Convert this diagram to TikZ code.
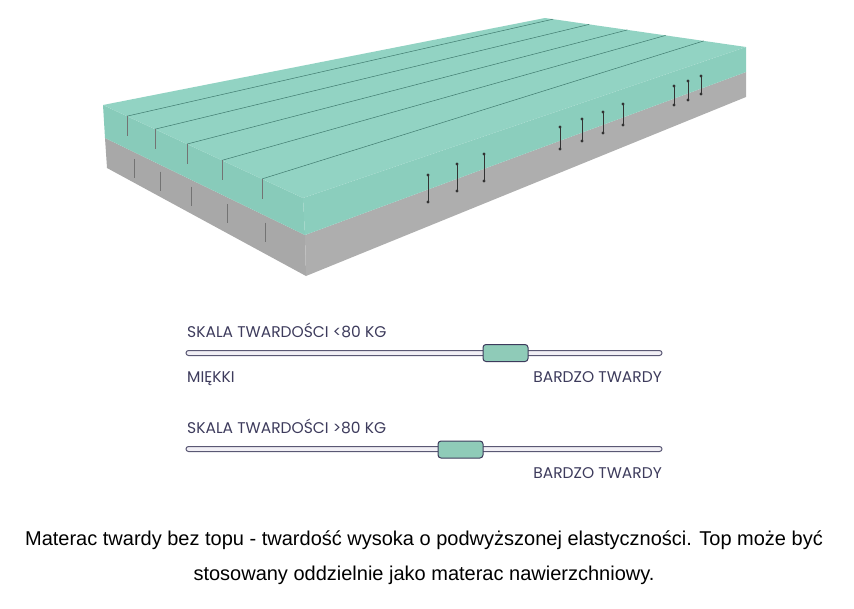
\documentclass[tikz,border=0pt]{standalone}
\usepackage{fontspec}
\setmainfont{Liberation Sans}
\newfontfamily\scalefont{Poppins}
\usetikzlibrary{positioning,calc}

\definecolor{foamtop}{HTML}{92D3C3}
\definecolor{foamside}{HTML}{8BCEBD}
\definecolor{foamend}{HTML}{88CBBA}
\definecolor{greyside}{HTML}{AEAEAE}
\definecolor{greyend}{HTML}{A8A8A8}
\definecolor{cutline}{HTML}{3F7A6E}
\definecolor{inkpurple}{HTML}{3D3B5C}
\definecolor{barfill}{HTML}{F1EFF5}
\definecolor{knobfill}{HTML}{8FCBB8}

\tikzset{
    scalelabel/.style={font=\scalefont\fontsize{15.5}{18}\selectfont, text=inkpurple, inner sep=0pt},
    scalebar/.style={draw=inkpurple!85, fill=barfill, line width=1pt, rounded corners=2.5pt},
    knob/.style={draw=inkpurple, fill=knobfill, line width=1pt, rounded corners=3pt,
        minimum width=45pt, minimum height=17pt, inner sep=0pt},
    stitch/.style={draw=black!80, line width=0.5pt},
}

\begin{document}
\begin{tikzpicture}[x=1pt,y=-1pt]
    \useasboundingbox (0,0) rectangle (854,608);

    % mattress corners
    \coordinate (tl) at (103,105);
    \coordinate (tb) at (545,18);
    \coordinate (tr) at (746,47);
    \coordinate (tf) at (303,198);
    \coordinate (ml) at (105,138);
    \coordinate (mf) at (305,235);
    \coordinate (mr) at (746,72);
    \coordinate (bl) at (107,168);
    \coordinate (bf) at (306,276);
    \coordinate (br) at (746,97);

    % faces
    \fill[greyend] (ml) -- (mf) -- (bf) -- (bl) -- cycle;
    \fill[greyside] (mf) -- (mr) -- (br) -- (bf) -- cycle;
    \fill[foamend] (tl) -- (tf) -- (mf) -- (ml) -- cycle;
    \fill[foamside] (tf) -- (tr) -- (mr) -- (mf) -- cycle;
    \fill[foamtop] (tl) -- (tb) -- (tr) -- (tf) -- cycle;

    % cuts along the top
    \foreach \a/\b in {0.12/0.04,0.26/0.22,0.42/0.41,0.595/0.6,0.795/0.79}
        \draw[cutline, line width=0.5pt] ($(tl)!\a!(tf)$) -- ($(tb)!\b!(tr)$);
    \foreach \a in {0.12,0.26,0.42,0.595,0.795}
        \draw[black!55, line width=0.5pt] ($(tl)!\a!(tf)$) -- ++(0,20);
    \foreach \a in {0.145,0.275,0.43,0.61,0.8}
        \draw[black!55, line width=0.5pt] ($(ml)!\a!(mf)$) ++(0,7) -- ++(0,19);

    % stitches
    \foreach \x/\ya/\yb in {428/175/202,457/164/191,484/154/181,
                            560/127/149,582/119/141,603/112/133,623/104/125,
                            674/86/105,688/81/100,701/76/94}
    {
        \draw[stitch] (\x,\ya) -- (\x,\yb);
        \fill[black!80] (\x,\ya) circle (1.6pt);
        \fill[black!80] (\x,\yb) circle (1.6pt);
    }

    % first scale
    \node[scalelabel, anchor=base west] (lowtitle) at (187,337) {SKALA TWARDOŚCI <80 KG};
    \draw[scalebar] (186,350.5) rectangle (662,355.5);
    \node[knob] (lowknob) at (505.5,353) {};
    \node[scalelabel, anchor=base west] (lowsoft) at (187,382) {MIĘKKI};
    \node[scalelabel, anchor=base east] (lowhard) at (662,382) {BARDZO TWARDY};

    % second scale
    \node[scalelabel, anchor=base west] (hightitle) at (187,433) {SKALA TWARDOŚCI >80 KG};
    \draw[scalebar] (186,446.5) rectangle (662,451.5);
    \node[knob] (highknob) at (460.5,449.5) {};
    \node[scalelabel, anchor=base east] (highhard) at (662,478) {BARDZO TWARDY};

    % caption
    \node[font=\fontsize{20}{35}\selectfont, align=center, anchor=base, inner sep=0pt] (caption) at (424,580)
        {Materac twardy bez topu - twardość wysoka o podwyższonej elastyczności. Top może być\\
         stosowany oddzielnie jako materac nawierzchniowy.};
\end{tikzpicture}
\end{document}
